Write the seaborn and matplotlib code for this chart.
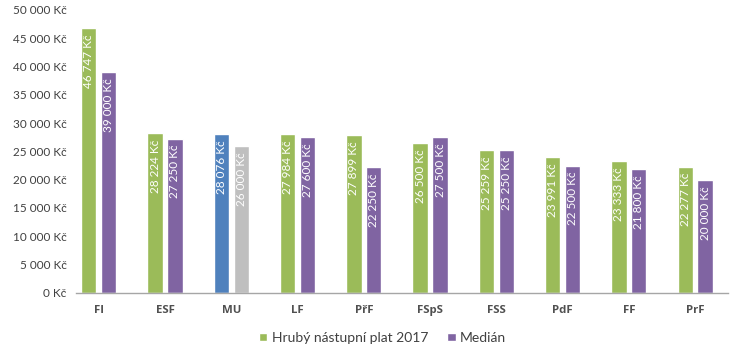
import matplotlib
matplotlib.use("Agg")
import matplotlib.pyplot as plt
import seaborn as sns
import pandas as pd
from matplotlib.patches import Patch
from matplotlib.ticker import FuncFormatter

categories = ["FI", "ESF", "MU", "LF", "PřF", "FSpS", "FSS", "PdF", "FF", "PrF"]
hruby = [46747, 28224, 28076, 27984, 27899, 26500, 25259, 23991, 23333, 22277]
median = [39000, 27250, 26000, 27600, 22250, 27500, 25250, 22500, 21800, 20000]
series = ["Hrubý nástupní plat 2017", "Medián"]

green = "#9BBB59"
purple = "#8064A2"
mu_colors = ["#4F81BD", "#BFBFBF"]

df = pd.DataFrame({
    "cat": categories * 2,
    "val": hruby + median,
    "series": [series[0]] * len(categories) + [series[1]] * len(categories),
})

sns.set_theme(style="white")
plt.rcParams["font.family"] = ["Lato", "DejaVu Sans"]

fig = plt.figure(figsize=(7.5, 3.52), dpi=100)
ax = fig.add_axes([0.101, 0.168, 0.870, 0.804])

sns.barplot(data=df, x="cat", y="val", hue="series", order=categories,
            hue_order=series, palette=[green, purple], width=0.6, gap=0.23,
            saturation=1, legend=False, ax=ax)

def fmt(v):
    return f"{int(v):,}".replace(",", " ") + " Kč"

mu_idx = categories.index("MU")
for ci, cont in enumerate(ax.containers):
    for i, bar in enumerate(cont):
        if i == mu_idx:
            bar.set_facecolor(mu_colors[ci])
        h = bar.get_height()
        ax.annotate(fmt(h), (bar.get_x() + bar.get_width() / 2, h),
                    xytext=(0, -4.5), textcoords="offset points",
                    rotation=90, ha="center", va="top", color="white",
                    fontsize=8.5)

ax.set_ylim(0, 50000)
ax.set_xlim(-0.347, 9.5)
ax.set_yticks(range(0, 50001, 5000))
ax.yaxis.set_major_formatter(FuncFormatter(lambda v, p: fmt(v)))
ax.set_xlabel("")
ax.set_ylabel("")
for s in ["top", "right", "left"]:
    ax.spines[s].set_visible(False)
ax.spines["bottom"].set_color("#A6A6A6")
ax.spines["bottom"].set_linewidth(1)
ax.tick_params(axis="y", length=0, labelsize=8.5, labelcolor="#404040", pad=6.5)
ax.tick_params(axis="x", length=0, labelsize=8.2, labelcolor="#505050", pad=9)
for t in ax.get_xticklabels():
    t.set_fontweight("bold")
    t.set_family(["Open Sans", "DejaVu Sans"])

handles = [Patch(facecolor=green), Patch(facecolor=purple)]
fig.legend(handles, series, loc="center", bbox_to_anchor=(0.51, 0.04), ncol=2,
           frameon=False, fontsize=10, handlelength=0.6, handleheight=0.6,
           handletextpad=0.3, columnspacing=1.4, labelcolor="#404040")

fig.savefig("out.png", dpi=100)
